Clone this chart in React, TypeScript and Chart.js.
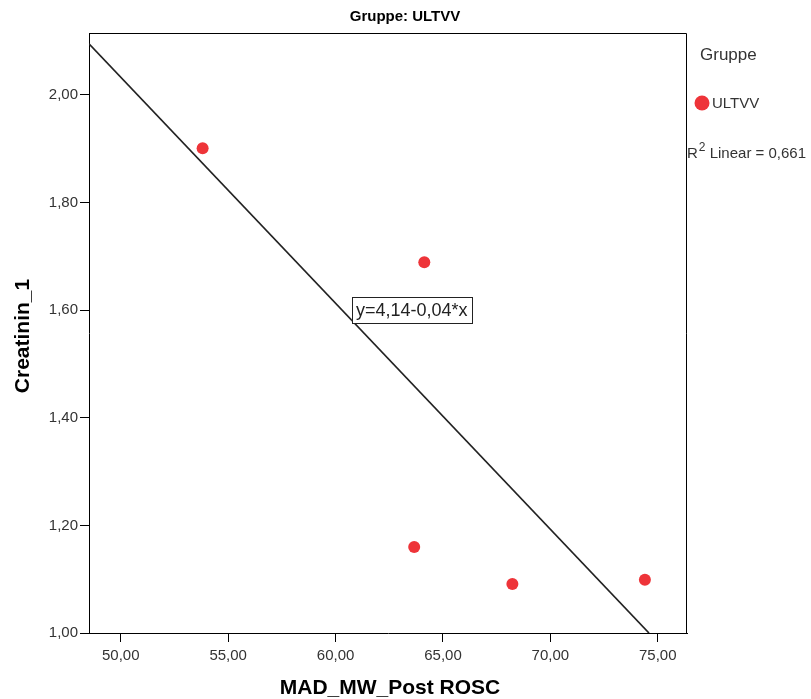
import React, { useEffect, useRef } from "react";
import { Chart, registerables } from "chart.js";

Chart.register(...registerables);

// Data
const xVals = [53.81, 64.13, 63.66, 68.23, 74.4];
const yVals = [1.901, 1.689, 1.16, 1.091, 1.099];
// fitted line endpoints (as drawn in the reference)
const fitX = [48.52, 74.59];
const fitY = [2.095, 1.0];
const xTicks = [50, 55, 60, 65, 70, 75];
const yTicks = [1.0, 1.2, 1.4, 1.6, 1.8, 2.0];

const titleText = "Gruppe: ULTVV";
const xTitle = "MAD_MW_Post ROSC";
const yTitle = "Creatinin_1";
const legendTitle = "Gruppe";
const legendLabel = "ULTVV";
const r2Text = "0,661";
const eqText = "y=4,14-0,04*x";

const FONT = '"Liberation Sans", Arial, sans-serif';
const RED = "#ee3439";

const fmt = (v: number) => v.toFixed(2).replace(".", ",");

export default function App() {
  const ref = useRef<HTMLCanvasElement | null>(null);

  useEffect(() => {
    if (!ref.current) return;
    const decor = {
      id: "decor",
      afterDraw(chart: any) {
        const ctx = chart.ctx;
        const a = chart.chartArea;
        const xs = chart.scales.x;
        const ys = chart.scales.y;
        ctx.save();
        // frame top & right
        ctx.strokeStyle = "#000";
        ctx.lineWidth = 1;
        ctx.beginPath();
        ctx.moveTo(Math.round(a.left) + 0.5, Math.round(a.top) + 0.5);
        ctx.lineTo(Math.round(a.right) - 0.5, Math.round(a.top) + 0.5);
        ctx.lineTo(Math.round(a.right) - 0.5, Math.round(a.bottom));
        ctx.stroke();

        // title
        ctx.fillStyle = "#000";
        ctx.textAlign = "center";
        ctx.textBaseline = "middle";
        ctx.font = `bold 15px ${FONT}`;
        ctx.fillText(titleText, 405, 17);

        // axis titles
        ctx.font = `bold 21px ${FONT}`;
        ctx.fillText(xTitle, (a.left + a.right) / 2 + 2, 688);
        ctx.save();
        ctx.translate(23, (a.top + a.bottom) / 2 + 3);
        ctx.rotate(-Math.PI / 2);
        ctx.fillText(yTitle, 0, 0);
        ctx.restore();

        // legend
        ctx.textAlign = "left";
        ctx.fillStyle = "#333";
        ctx.font = `17px ${FONT}`;
        ctx.fillText(legendTitle, 700, 55);
        ctx.fillStyle = RED;
        ctx.beginPath();
        ctx.arc(702, 103, 7.5, 0, Math.PI * 2);
        ctx.fill();
        ctx.fillStyle = "#333";
        ctx.font = `15px ${FONT}`;
        ctx.fillText(legendLabel, 712, 104);

        // R2 text
        ctx.font = `15px ${FONT}`;
        ctx.fillText("R", 687, 154);
        const w = ctx.measureText("R").width;
        ctx.font = `12px ${FONT}`;
        ctx.fillText("2", 687 + w + 1, 148);
        const w2 = ctx.measureText("2").width;
        ctx.font = `15px ${FONT}`;
        ctx.fillText(" Linear = " + r2Text, 687 + w + w2 + 1, 154);

        // equation box
        const bx = xs.getPixelForValue(60.76);
        const by = ys.getPixelForValue(1.6);
        ctx.font = `18px ${FONT}`;
        const tw = ctx.measureText(eqText).width;
        const bw = tw + 8;
        const bh = 26;
        ctx.fillStyle = "#fff";
        ctx.fillRect(bx, by - bh / 2, bw, bh);
        ctx.strokeStyle = "#222";
        ctx.lineWidth = 1;
        ctx.strokeRect(Math.round(bx) + 0.5, Math.round(by - bh / 2) + 0.5, Math.round(bw), bh);
        ctx.fillStyle = "#222";
        ctx.textBaseline = "middle";
        ctx.fillText(eqText, bx + 4, by + 1);
        ctx.restore();
      },
    };

    const chart = new Chart(ref.current, {
      type: "scatter",
      data: {
        datasets: [
          {
            label: "fit",
            data: fitX.map((x, i) => ({ x, y: fitY[i] })),
            showLine: true,
            borderColor: "#222",
            borderWidth: 1.7,
            pointRadius: 0,
            order: 2,
          },
          {
            label: legendLabel,
            data: xVals.map((x, i) => ({ x, y: yVals[i] })),
            pointRadius: 6,
            pointBackgroundColor: RED,
            pointBorderWidth: 0,
            backgroundColor: RED,
            borderColor: RED,
            order: 1,
          },
        ],
      },
      options: {
        responsive: false,
        animation: false,
        devicePixelRatio: 1,
        layout: { padding: { top: 33, right: 124, left: 0, bottom: 0 } },
        plugins: { legend: { display: false }, tooltip: { enabled: false } },
        scales: {
          x: {
            type: "linear",
            min: 48.52,
            max: 76.36,
            afterBuildTicks: (s: any) => {
              s.ticks = xTicks.map((v) => ({ value: v }));
            },
            afterFit: (s: any) => {
              s.height = 66;
            },
            ticks: {
              callback: (v: any) => fmt(Number(v)),
              font: { family: FONT, size: 15 },
              color: "#333",
              padding: 5,
              maxRotation: 0,
              autoSkip: false,
            },
            grid: {
              drawOnChartArea: false,
              drawTicks: true,
              tickLength: 9,
              tickColor: "#000",
              tickWidth: 1,
            },
            border: { color: "#000", width: 1 },
          },
          y: {
            type: "linear",
            min: 1.0,
            max: 2.1152,
            afterBuildTicks: (s: any) => {
              s.ticks = yTicks.map((v) => ({ value: v }));
            },
            afterFit: (s: any) => {
              s.width = 89;
            },
            ticks: {
              callback: (v: any) => fmt(Number(v)),
              font: { family: FONT, size: 15 },
              color: "#333",
              padding: 2,
              autoSkip: false,
            },
            grid: {
              drawOnChartArea: false,
              drawTicks: true,
              tickLength: 9,
              tickColor: "#000",
              tickWidth: 1,
            },
            border: { color: "#000", width: 1 },
          },
        },
      },
      plugins: [decor],
    });
    return () => chart.destroy();
  }, []);

  return (
    <div style={{ position: "fixed", left: 0, top: 0, width: 811, height: 699, background: "#fff" }}>
      <canvas ref={ref} width={811} height={699} style={{ display: "block" }} />
    </div>
  );
}
